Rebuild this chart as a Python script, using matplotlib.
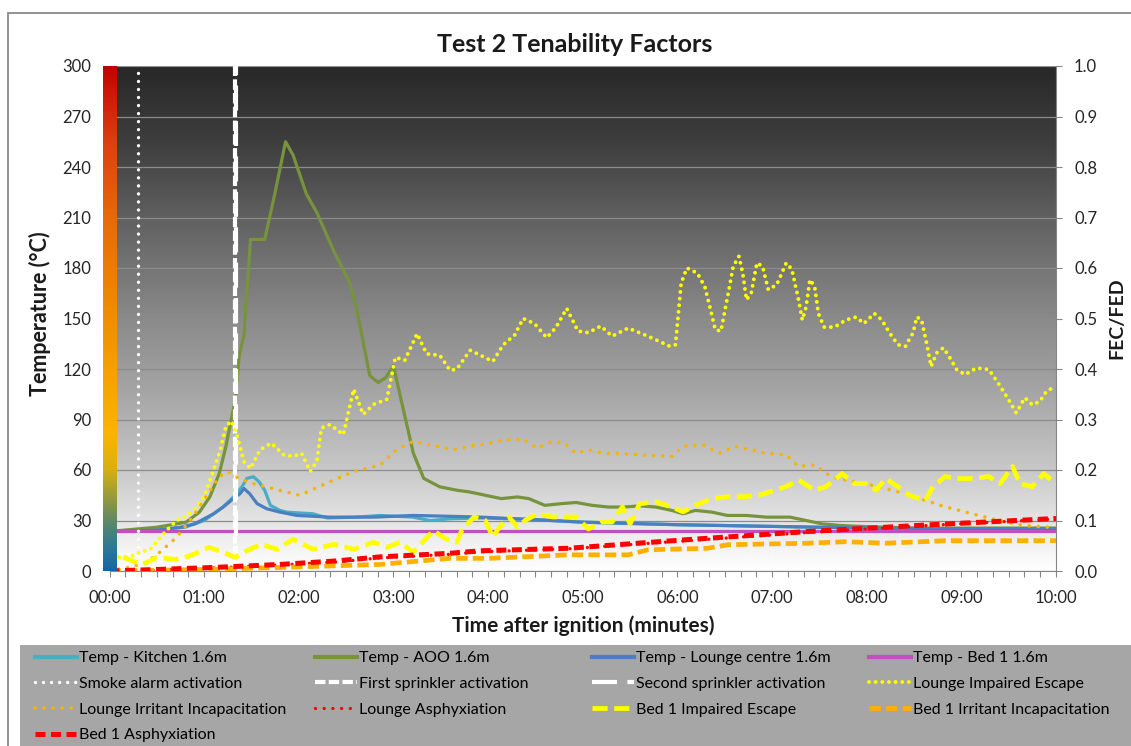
import matplotlib

matplotlib.use("Agg")

import matplotlib.pyplot as plt
import numpy as np
from matplotlib.colors import LinearSegmentedColormap
from matplotlib.lines import Line2D
from matplotlib.patches import Rectangle
from matplotlib.ticker import FuncFormatter, MultipleLocator

plt.rcParams["font.family"] = ["Lato", "DejaVu Sans"]

# ---- data (time in minutes after ignition) ----
kitchen_t = [0, 0.5, 0.8, 1.0, 1.2, 1.31, 1.4, 1.45, 1.52, 1.58,
             1.64, 1.7, 1.8, 1.87, 2.0, 2.15, 2.3, 2.6, 2.86, 3.2,
             3.39, 3.6, 3.92, 4.5, 5.0, 6.0, 7.0, 8.0, 9.0, 10.0]
kitchen_temp = [23.5, 24.5, 26, 30, 38, 44, 50, 55, 56, 53,
                48, 39, 36, 35, 34.5, 34, 31.5, 32, 33, 32,
                30, 31, 31.5, 30.5, 29, 27.5, 26.5, 25.5, 25, 24.5]

aoo_t = [0, 0.5, 0.81, 0.95, 1.06, 1.16, 1.23, 1.29, 1.33, 1.37,
         1.42, 1.49, 1.56, 1.64, 1.75, 1.86, 1.94, 2.08, 2.19, 2.37,
         2.54, 2.61, 2.75, 2.84, 2.92, 3.0, 3.1, 3.21, 3.32, 3.49,
         3.67, 3.8, 3.97, 4.14, 4.31, 4.43, 4.6, 4.77, 4.93, 5.1,
         5.27, 5.44, 5.6, 5.77, 5.94, 6.06, 6.19, 6.36, 6.53, 6.73,
         6.94, 7.19, 7.36, 7.53, 7.74, 7.99, 8.5, 9.0, 10.0]
aoo_temp = [23.5, 26, 29, 35, 44, 58, 74, 91, 102, 128,
            140, 197, 197, 197, 225, 255, 247, 224, 213, 190,
            171, 156, 116, 112, 115, 122, 97, 70, 55, 50,
            48, 47, 45, 43, 44, 43, 39, 40, 40.7, 39,
            38, 38, 38.7, 38, 36, 34, 36, 35, 33, 33,
            32, 32, 30, 28, 27, 26.4, 25.5, 25.5, 25.5]

lounge_t = [0, 0.5, 0.75, 0.9, 1.1, 1.2, 1.31, 1.38, 1.42, 1.48,
            1.56, 1.66, 1.8, 1.98, 2.33, 2.8, 3.21, 3.6, 3.92, 4.5,
            5.0, 6.0, 7.0, 8.0, 9.0, 10.0]
lounge_temp = [23.5, 24.2, 26, 28, 34, 38, 43, 46, 49, 46,
               40, 37, 35, 33, 32, 32, 33, 32.5, 32, 30.5,
               29, 27.5, 26.5, 25.5, 25, 25]

bed_t = [0, 10.0]
bed_temp = [23.5, 23.5]

smoke_alarm_time = 0.30
first_sprinkler_time = 1.33
second_sprinkler_time = 1.34

lounge_escape_t = [0, 0.1, 0.22, 0.32, 0.43, 0.6, 0.71, 0.82, 0.92, 1.0,
                   1.1, 1.17, 1.23, 1.29, 1.35, 1.42, 1.49, 1.59, 1.71, 1.84,
                   1.94, 2.03, 2.12, 2.19, 2.24, 2.33, 2.47, 2.58, 2.68, 2.79,
                   2.93, 3.02, 3.12, 3.25, 3.35, 3.49, 3.6, 3.67, 3.81, 3.92,
                   4.05, 4.16, 4.28, 4.37, 4.49, 4.62, 4.72, 4.83, 4.95, 5.06,
                   5.19, 5.31, 5.48, 5.65, 5.77, 5.92, 5.98, 6.04, 6.1, 6.21,
                   6.29, 6.36, 6.4, 6.46, 6.53, 6.59, 6.65, 6.69, 6.73, 6.78,
                   6.84, 6.9, 6.96, 7.05, 7.15, 7.21, 7.28, 7.32, 7.36, 7.4,
                   7.45, 7.49, 7.55, 7.66, 7.78, 7.89, 7.97, 8.08, 8.16, 8.24,
                   8.33, 8.41, 8.49, 8.53, 8.58, 8.64, 8.68, 8.74, 8.81, 8.87,
                   8.95, 9.04, 9.16, 9.29, 9.39, 9.5, 9.58, 9.67, 9.75, 9.83,
                   9.9, 10.0]
lounge_escape = [0.010, 0.027, 0.028, 0.037, 0.043, 0.080, 0.100, 0.110, 0.127, 0.147,
                 0.200, 0.240, 0.287, 0.297, 0.267, 0.217, 0.203, 0.240, 0.253, 0.230,
                 0.227, 0.233, 0.197, 0.217, 0.283, 0.290, 0.270, 0.360, 0.310, 0.330,
                 0.340, 0.423, 0.417, 0.470, 0.430, 0.427, 0.397, 0.400, 0.437, 0.427,
                 0.415, 0.448, 0.467, 0.500, 0.490, 0.462, 0.483, 0.520, 0.475, 0.472,
                 0.485, 0.465, 0.481, 0.468, 0.458, 0.445, 0.448, 0.570, 0.600, 0.590,
                 0.563, 0.510, 0.478, 0.475, 0.543, 0.603, 0.623, 0.590, 0.537, 0.550,
                 0.610, 0.603, 0.557, 0.567, 0.610, 0.597, 0.537, 0.497, 0.523, 0.577,
                 0.563, 0.510, 0.483, 0.483, 0.497, 0.503, 0.490, 0.510, 0.497, 0.472,
                 0.448, 0.445, 0.472, 0.503, 0.497, 0.445, 0.405, 0.432, 0.442, 0.425,
                 0.399, 0.389, 0.402, 0.399, 0.372, 0.339, 0.313, 0.343, 0.329, 0.336,
                 0.356, 0.366]

lounge_irritant_t = [0, 0.2, 0.39, 0.53, 0.71, 0.88, 1.02, 1.16, 1.25, 1.37,
                     1.52, 1.73, 2.01, 2.33, 2.58, 2.86, 3.03, 3.21, 3.39, 3.63,
                     3.8, 4.01, 4.18, 4.37, 4.52, 4.68, 4.81, 4.93, 5.06, 5.23,
                     5.39, 5.6, 5.94, 6.06, 6.27, 6.44, 6.61, 6.78, 6.94, 7.15,
                     7.28, 7.45, 7.62, 7.78, 7.99, 8.2, 8.41, 8.62, 8.83, 9.04,
                     9.25, 9.46, 9.67, 9.88, 10.0]
lounge_irritant = [0.001, 0.007, 0.017, 0.037, 0.067, 0.107, 0.147, 0.187, 0.197, 0.183,
                   0.173, 0.163, 0.150, 0.177, 0.197, 0.210, 0.240, 0.257, 0.250, 0.240,
                   0.247, 0.253, 0.260, 0.261, 0.243, 0.257, 0.253, 0.233, 0.240, 0.233,
                   0.233, 0.230, 0.227, 0.247, 0.250, 0.233, 0.247, 0.240, 0.233, 0.230,
                   0.207, 0.210, 0.187, 0.180, 0.173, 0.163, 0.153, 0.140, 0.127, 0.117,
                   0.107, 0.097, 0.090, 0.087, 0.087]

asphyx_t = [0, 0.5, 1.1, 1.8, 2.4, 2.86, 3.59, 3.92, 4.85, 6.1, 7.36, 8.62, 10.0]
lounge_asphyx = [0, 0.002, 0.006, 0.012, 0.018, 0.026, 0.033, 0.038, 0.044, 0.060, 0.076, 0.090, 0.103]
bed_asphyx = [0, 0.003, 0.007, 0.013, 0.020, 0.028, 0.035, 0.040, 0.045, 0.062, 0.078, 0.091, 0.104]

bed_escape_t = [0, 0.08, 0.2, 0.35, 0.5, 0.7, 0.85, 1.05, 1.2, 1.33,
                1.45, 1.6, 1.77, 1.94, 2.15, 2.37, 2.58, 2.79, 2.93, 3.07,
                3.21, 3.42, 3.56, 3.67, 3.72, 3.85, 3.97, 4.05, 4.12, 4.22,
                4.31, 4.39, 4.52, 4.68, 4.93, 5.06, 5.19, 5.31, 5.42, 5.5,
                5.6, 5.77, 5.94, 6.06, 6.19, 6.36, 6.53, 6.69, 6.86, 7.03,
                7.15, 7.28, 7.45, 7.57, 7.74, 7.87, 7.99, 8.1, 8.2, 8.33,
                8.45, 8.62, 8.7, 8.83, 8.95, 9.12, 9.29, 9.41, 9.54, 9.62,
                9.75, 9.87, 9.95, 10.0]
bed_escape = [0.007, 0.033, 0.023, 0.013, 0.027, 0.023, 0.030, 0.047, 0.037, 0.027,
              0.040, 0.053, 0.043, 0.063, 0.043, 0.053, 0.043, 0.057, 0.047, 0.057,
              0.037, 0.080, 0.063, 0.057, 0.080, 0.107, 0.100, 0.067, 0.087, 0.107,
              0.087, 0.100, 0.113, 0.107, 0.107, 0.083, 0.097, 0.097, 0.127, 0.093,
              0.133, 0.137, 0.127, 0.117, 0.130, 0.143, 0.147, 0.147, 0.150, 0.160,
              0.167, 0.180, 0.160, 0.167, 0.193, 0.173, 0.173, 0.160, 0.183, 0.167,
              0.150, 0.140, 0.167, 0.187, 0.183, 0.183, 0.187, 0.173, 0.207, 0.173,
              0.167, 0.193, 0.180, 0.173]

bed_irritant_t = [0, 1.0, 1.8, 2.86, 3.59, 4.0, 4.85, 5.48, 5.69, 6.32, 6.53, 7.36, 7.78, 8.2, 8.83, 10.0]
bed_irritant = [0, 0.003, 0.007, 0.013, 0.025, 0.025, 0.032, 0.032, 0.042, 0.045, 0.052, 0.055, 0.058, 0.055, 0.060, 0.060]

temp_ticks = list(range(0, 301, 30))
fec_ticks = [0.0, 0.1, 0.2, 0.3, 0.4, 0.5, 0.6, 0.7, 0.8, 0.9, 1.0]

# ---- figure ----
W, H = 1131, 746
fig = plt.figure(figsize=(W / 100, H / 100), dpi=100)
fig.patch.set_facecolor("white")

# outer chart border and grey legend band
fig.patches.append(Rectangle((8 / W, -0.05), 1.1, (H - 13) / H + 0.05, transform=fig.transFigure,
                             fill=False, edgecolor="#8a8a8a", linewidth=1.3))
fig.patches.append(Rectangle((20 / W, -0.05), 1.1, (H - 645) / H + 0.05, transform=fig.transFigure,
                             facecolor="#a6a6a6", edgecolor="none"))

x0, x1, ytop, ybot = 109.5, 1056, 66, 571
ax = fig.add_axes([x0 / W, (H - ybot) / H, (x1 - x0) / W, (ybot - ytop) / H])

bg = LinearSegmentedColormap.from_list(
    "bg", [(0, "#ffffff"), (0.1, "#e4e4e4"), (0.2, "#c8c8c8"), (0.35, "#a6a6a6"),
           (0.5, "#8a8a8a"), (0.7, "#606060"), (0.85, "#3e3e3e"), (1.0, "#282828")])
ax.imshow(np.linspace(1, 0, 256).reshape(-1, 1), extent=[0, 10, 0, 300], aspect="auto",
          cmap=bg, vmin=0, vmax=1, zorder=0)

ax.plot(kitchen_t, kitchen_temp, color="#4bacc6", lw=2.3, solid_capstyle="round", zorder=3)
ax.plot(aoo_t, aoo_temp, color="#77933c", lw=2.3, solid_capstyle="round", zorder=3)
ax.plot(lounge_t, lounge_temp, color="#4a7fc0", lw=2.3, solid_capstyle="round", zorder=3)
ax.plot(bed_t, bed_temp, color="#c04fc0", lw=2.3, zorder=3)

ax.set_xlim(0, 10)
ax.set_ylim(0, 300)
ax.set_yticks(temp_ticks)
ax.grid(axis="y", color="#8c8c8c", linewidth=0.9)
ax.set_axisbelow(True)
ax.xaxis.set_major_locator(MultipleLocator(1))
ax.xaxis.set_minor_locator(MultipleLocator(1 / 6))
ax.xaxis.set_major_formatter(FuncFormatter(lambda v, p: f"{int(round(v)):02d}:00"))
ax.tick_params(axis="x", which="both", length=4, width=0.8, color="#868686",
               labelsize=12, labelcolor="#262626", pad=10)
ax.tick_params(axis="y", length=0, labelsize=12, labelcolor="#262626", pad=13)
for side in ["top", "left", "right"]:
    ax.spines[side].set_visible(False)
ax.spines["bottom"].set_color("#868686")

ax2 = ax.twinx()
ax2.set_ylim(0, 1)
ax2.set_yticks(fec_ticks)
ax2.yaxis.set_major_formatter(FuncFormatter(lambda v, p: f"{v:.1f}"))
ax2.tick_params(axis="y", length=4, width=0.8, color="#868686",
                labelsize=12, labelcolor="#262626", pad=9)
for side in ["top", "left", "bottom"]:
    ax2.spines[side].set_visible(False)
ax2.spines["right"].set_color("#868686")

# event markers
smoke_style = dict(color="white", lw=2.4, ls=(0, (0.01, 2.4)), dash_capstyle="round")
first_style = dict(color="white", lw=3, ls=(0, (2.5, 0.8)))
second_style = dict(color="white", lw=3, ls=(0, (6, 2.5)))
ax2.axvline(smoke_alarm_time, **smoke_style)
ax2.axvline(first_sprinkler_time, **first_style)
ax2.axvline(second_sprinkler_time, **second_style)

# FEC / FED series
le_style = dict(color="#ffff00", lw=2.8, ls=(0, (0.01, 1.7)), dash_capstyle="round")
li_style = dict(color="#f5b400", lw=2.6, ls=(0, (0.01, 2.5)), dash_capstyle="round")
la_style = dict(color="#ff0000", lw=2.4, ls=(0, (0.01, 2.6)), dash_capstyle="round")
be_style = dict(color="#ffff00", lw=3.4, ls=(0, (3.2, 1.4)))
bi_style = dict(color="#ffb000", lw=3.4, ls=(0, (2.4, 1.1)))
ba_style = dict(color="#ff0000", lw=3.6, ls=(0, (2.0, 1.1)))

ax2.plot(lounge_escape_t, lounge_escape, **le_style)
ax2.plot(lounge_irritant_t, lounge_irritant, **li_style)
ax2.plot(asphyx_t, lounge_asphyx, **la_style)
ax2.plot(bed_escape_t, bed_escape, **be_style)
ax2.plot(bed_irritant_t, bed_irritant, **bi_style)
ax2.plot(asphyx_t, bed_asphyx, **ba_style)

# temperature colour strip on the left
strip = fig.add_axes([103 / W, (H - ybot) / H, 14 / W, (ybot - ytop) / H])
heat = LinearSegmentedColormap.from_list(
    "heat", [(0, "#1565a5"), (0.04, "#2a7898"), (0.08, "#4a8478"), (0.12, "#7a9050"),
             (0.16, "#a8a030"), (0.2, "#d8b010"), (0.27, "#fcb400"), (0.4, "#f5a000"),
             (0.55, "#ef8500"), (0.7, "#e86a08"), (0.85, "#dc4010"), (0.95, "#cc1808"),
             (1.0, "#c00000")])
strip.imshow(np.linspace(1, 0, 256).reshape(-1, 1), aspect="auto", cmap=heat, vmin=0, vmax=1)
strip.axis("off")

# titles and axis labels
fig.text(575 / W, 1 - 44 / H, "Test 2 Tenability Factors", ha="center", va="center",
         fontsize=18, fontweight="bold", color="#1a1a1a")
fig.text(40 / W, 1 - 314 / H, "Temperature (°C)", rotation=90, ha="center", va="center",
         fontsize=15.5, fontweight="bold", color="#1a1a1a")
fig.text(1117 / W, 1 - 318 / H, "FEC/FED", rotation=90, ha="center", va="center",
         fontsize=14, fontweight="bold", color="#1a1a1a")
fig.text(583 / W, 1 - 626 / H, "Time after ignition (minutes)", ha="center", va="center",
         fontsize=15, fontweight="bold", color="#1a1a1a")

# legend, laid out as four columns
def h(**kw):
    return Line2D([], [], **kw)

solid = dict(lw=3)
columns = [
    (35, [(h(color="#4bacc6", **solid), "Temp - Kitchen 1.6m"),
          (h(**smoke_style), "Smoke alarm activation"),
          (h(**li_style), "Lounge Irritant Incapacitation"),
          (h(**ba_style), "Bed 1 Asphyxiation")]),
    (315, [(h(color="#77933c", **solid), "Temp - AOO 1.6m"),
           (h(**first_style), "First sprinkler activation"),
           (h(**la_style), "Lounge Asphyxiation")]),
    (592, [(h(color="#4a7fc0", **solid), "Temp - Lounge centre 1.6m"),
           (h(**second_style), "Second sprinkler activation"),
           (h(**be_style), "Bed 1 Impaired Escape")]),
    (869, [(h(color="#c04fc0", **solid), "Temp - Bed 1 1.6m"),
           (h(**le_style), "Lounge Impaired Escape"),
           (h(**bi_style), "Bed 1 Irritant Incapacitation")]),
]
for xpx, entries in columns:
    fig.legend([e[0] for e in entries], [e[1] for e in entries], loc="upper left",
               bbox_to_anchor=(xpx / W, 1 - 651 / H), frameon=False, fontsize=11.5,
               handlelength=2.6, handletextpad=0.15, labelspacing=0.72, borderpad=0,
               borderaxespad=0)

fig.savefig("out.png", dpi=100)
